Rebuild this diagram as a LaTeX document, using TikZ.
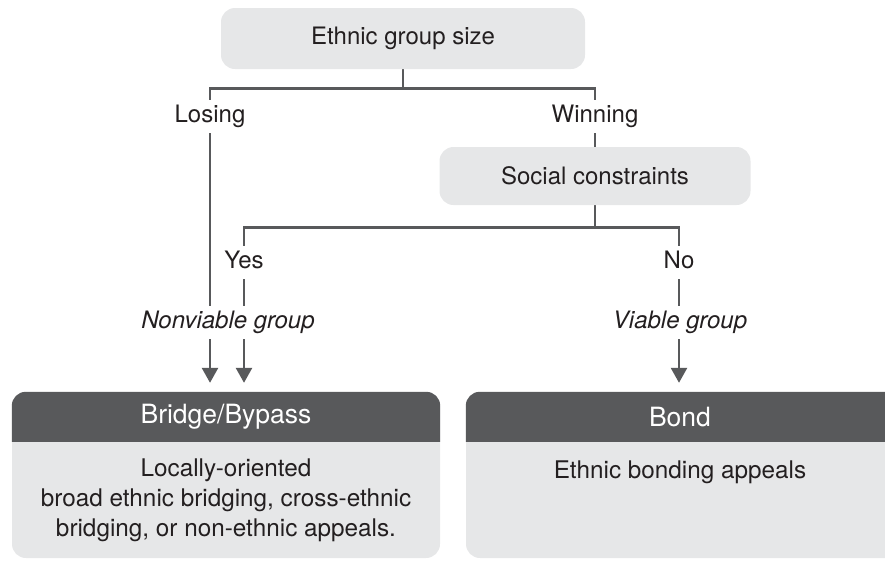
\documentclass[tikz,border=0pt]{standalone}
\usepackage{fontspec}
\setmainfont{TeX Gyre Heros}
\usetikzlibrary{arrows.meta,backgrounds,calc}
\definecolor{lightbox}{HTML}{E6E7E8}
\definecolor{hdrcol}{HTML}{58595B}
\definecolor{linecol}{HTML}{58595B}
\definecolor{txtcol}{HTML}{231F20}
\begin{document}
\begin{tikzpicture}[x=1pt,y=-1pt,
  every node/.style={text=txtcol},
  qbox/.style={fill=lightbox, rounded corners=14pt, inner sep=0pt, font=\fontsize{24}{30}\selectfont},
  bigbox/.style={fill=lightbox, rounded corners=14pt, inner sep=0pt},
  lbl/.style={fill=white, inner xsep=4pt, inner ysep=5.5pt, text height=17pt, text depth=5pt, font=\fontsize{24}{30}\selectfont},
  hdrtext/.style={text=white, inner sep=0pt, font=\fontsize{26.5}{30}\selectfont},
  bodytext/.style={align=center, inner sep=0pt, font=\fontsize{24.3}{30}\selectfont},
  conn/.style={draw=linecol, line width=2.6pt},
  arr/.style={-{Triangle[length=15pt,width=16pt]}, shorten >=9pt}
]
\useasboundingbox (0,0) rectangle (885,560);
\clip (0,0) rectangle (885,560);

% decision boxes
\node[qbox, minimum width=364pt, minimum height=61pt] (size) at (403,38.5) {Ethnic group size};
\node[qbox, minimum width=311pt, minimum height=58pt] (social) at (595,176) {Social constraints};

% outcome boxes
\node[bigbox, minimum width=428pt, minimum height=166pt] (bridge) at (226,475) {};
\node[bigbox, minimum width=440pt, minimum height=166pt] (bond) at (686,475) {};
\begin{scope}
  \clip (bridge.north west) rectangle ($(bridge.north east)+(0,50)$);
  \fill[hdrcol, rounded corners=14pt] (bridge.north west) rectangle (bridge.south east);
\end{scope}
\begin{scope}
  \clip (bond.north west) rectangle ($(bond.north east)+(0,50)$);
  \fill[hdrcol, rounded corners=14pt] (bond.north west) rectangle (bond.south east);
\end{scope}
\node[hdrtext] (bridgehead) at (226,417) {Bridge/Bypass};
\node[hdrtext] (bondhead) at (680,417) {Bond};
\node[bodytext] (bridgebody) at (226,500) {Locally-oriented\\broad ethnic bridging, cross-ethnic\\bridging, or non-ethnic appeals.};
\node[bodytext] (bondbody) at (680,472) {Ethnic bonding appeals};

% branch labels
\node[lbl] (losing) at (210,116.5) {Losing};
\node[lbl] (winning) at (595,116.5) {Winning};
\node[lbl] (yes) at (244,262) {Yes};
\node[lbl] (no) at (679,262) {No};
\node[lbl] (nonviable) at (228,322) {\itshape Nonviable group};
\node[lbl] (viable) at (680,322) {\itshape Viable group};

% connectors
\begin{scope}[on background layer]
  \draw[conn] (size.south) -- ++(0,19) -| (social.north);
  \draw[conn, arr] (size.south) -- ++(0,19) -| (losing |- bridge.north);
  \draw[conn, arr] (social.south) -- ++(0,22) -| (yes |- bridge.north);
  \draw[conn, arr] (social.south) -- ++(0,22) -| (no |- bond.north);
\end{scope}
\end{tikzpicture}
\end{document}
